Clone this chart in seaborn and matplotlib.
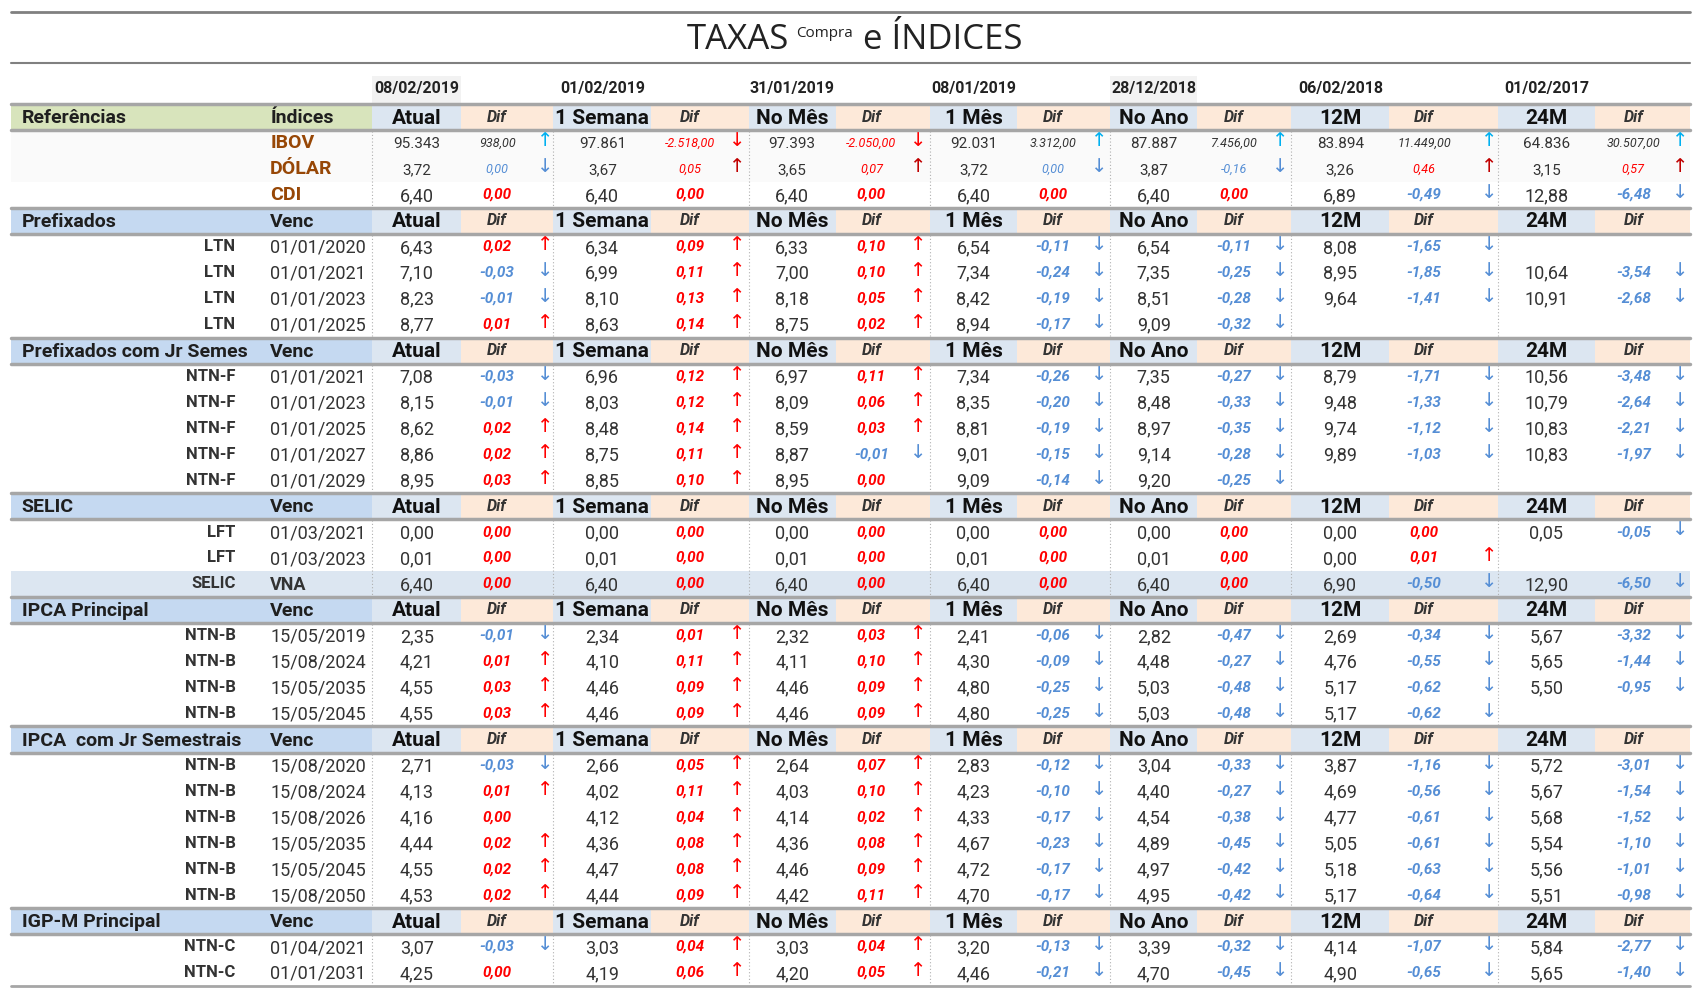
import matplotlib
matplotlib.use("Agg")
import matplotlib.pyplot as plt
import seaborn as sns

sns.set_theme(style="white")
FONT = ["Liberation Sans Narrow", "Roboto", "DejaVu Sans"]
plt.rcParams["font.family"] = FONT

# ─── Dados ────────────────────────────────────────────────────────────────────
DATES = ["08/02/2019", "01/02/2019", "31/01/2019", "08/01/2019", "28/12/2018", "06/02/2018", "01/02/2017"]
PERIODS = ["Atual", "1 Semana", "No Mês", "1 Mês", "No Ano", "12M", "24M"]

SECTIONS = [(0, "Referências", "Índices"), (4, "Prefixados", "Venc"),
            (9, "Prefixados com Jr Semes", "Venc"), (15, "SELIC", "Venc"),
            (19, "IPCA Principal", "Venc"), (24, "IPCA  com Jr Semestrais", "Venc"),
            (31, "IGP-M Principal", "Venc")]

ROW_IDX = [1, 2, 3, 5, 6, 7, 8, 10, 11, 12, 13, 14, 16, 17, 18,
           20, 21, 22, 23, 25, 26, 27, 28, 29, 30, 32, 33]
NAMES = ["IBOV", "DÓLAR", "CDI"] + ["LTN"] * 4 + ["NTN-F"] * 5 + ["LFT", "LFT", "SELIC"] \
    + ["NTN-B"] * 10 + ["NTN-C"] * 2
VENCS = ["", "", "", "01/01/2020", "01/01/2021", "01/01/2023", "01/01/2025",
         "01/01/2021", "01/01/2023", "01/01/2025", "01/01/2027", "01/01/2029",
         "01/03/2021", "01/03/2023", "VNA",
         "15/05/2019", "15/08/2024", "15/05/2035", "15/05/2045",
         "15/08/2020", "15/08/2024", "15/08/2026", "15/05/2035", "15/05/2045", "15/08/2050",
         "01/04/2021", "01/01/2031"]

N = None
atual = [95343, 3.72, 6.40, 6.43, 7.10, 8.23, 8.77, 7.08, 8.15, 8.62, 8.86, 8.95, 0.00, 0.01, 6.40,
         2.35, 4.21, 4.55, 4.55, 2.71, 4.13, 4.16, 4.44, 4.55, 4.53, 3.07, 4.25]
dif_atual = [938.00, 0.00, 0.00, 0.02, -0.03, -0.01, 0.01, -0.03, -0.01, 0.02, 0.02, 0.03, 0.00, 0.00, 0.00,
             -0.01, 0.01, 0.03, 0.03, -0.03, 0.01, 0.00, 0.02, 0.02, 0.02, -0.03, 0.00]
semana = [97861, 3.67, 6.40, 6.34, 6.99, 8.10, 8.63, 6.96, 8.03, 8.48, 8.75, 8.85, 0.00, 0.01, 6.40,
          2.34, 4.10, 4.46, 4.46, 2.66, 4.02, 4.12, 4.36, 4.47, 4.44, 3.03, 4.19]
dif_semana = [-2518.00, 0.05, 0.00, 0.09, 0.11, 0.13, 0.14, 0.12, 0.12, 0.14, 0.11, 0.10, 0.00, 0.00, 0.00,
              0.01, 0.11, 0.09, 0.09, 0.05, 0.11, 0.04, 0.08, 0.08, 0.09, 0.04, 0.06]
no_mes = [97393, 3.65, 6.40, 6.33, 7.00, 8.18, 8.75, 6.97, 8.09, 8.59, 8.87, 8.95, 0.00, 0.01, 6.40,
          2.32, 4.11, 4.46, 4.46, 2.64, 4.03, 4.14, 4.36, 4.46, 4.42, 3.03, 4.20]
dif_no_mes = [-2050.00, 0.07, 0.00, 0.10, 0.10, 0.05, 0.02, 0.11, 0.06, 0.03, -0.01, 0.00, 0.00, 0.00, 0.00,
              0.03, 0.10, 0.09, 0.09, 0.07, 0.10, 0.02, 0.08, 0.09, 0.11, 0.04, 0.05]
um_mes = [92031, 3.72, 6.40, 6.54, 7.34, 8.42, 8.94, 7.34, 8.35, 8.81, 9.01, 9.09, 0.00, 0.01, 6.40,
          2.41, 4.30, 4.80, 4.80, 2.83, 4.23, 4.33, 4.67, 4.72, 4.70, 3.20, 4.46]
dif_um_mes = [3312.00, 0.00, 0.00, -0.11, -0.24, -0.19, -0.17, -0.26, -0.20, -0.19, -0.15, -0.14, 0.00, 0.00, 0.00,
              -0.06, -0.09, -0.25, -0.25, -0.12, -0.10, -0.17, -0.23, -0.17, -0.17, -0.13, -0.21]
no_ano = [87887, 3.87, 6.40, 6.54, 7.35, 8.51, 9.09, 7.35, 8.48, 8.97, 9.14, 9.20, 0.00, 0.01, 6.40,
          2.82, 4.48, 5.03, 5.03, 3.04, 4.40, 4.54, 4.89, 4.97, 4.95, 3.39, 4.70]
dif_no_ano = [7456.00, -0.16, 0.00, -0.11, -0.25, -0.28, -0.32, -0.27, -0.33, -0.35, -0.28, -0.25, 0.00, 0.00, 0.00,
              -0.47, -0.27, -0.48, -0.48, -0.33, -0.27, -0.38, -0.45, -0.42, -0.42, -0.32, -0.45]
m12 = [83894, 3.26, 6.89, 8.08, 8.95, 9.64, N, 8.79, 9.48, 9.74, 9.89, N, 0.00, 0.00, 6.90,
       2.69, 4.76, 5.17, 5.17, 3.87, 4.69, 4.77, 5.05, 5.18, 5.17, 4.14, 4.90]
dif_m12 = [11449.00, 0.46, -0.49, -1.65, -1.85, -1.41, N, -1.71, -1.33, -1.12, -1.03, N, 0.00, 0.01, -0.50,
           -0.34, -0.55, -0.62, -0.62, -1.16, -0.56, -0.61, -0.61, -0.63, -0.64, -1.07, -0.65]
m24 = [64836, 3.15, 12.88, N, 10.64, 10.91, N, 10.56, 10.79, 10.83, 10.83, N, 0.05, N, 12.90,
       5.67, 5.65, 5.50, N, 5.72, 5.67, 5.68, 5.54, 5.56, 5.51, 5.84, 5.65]
dif_m24 = [30507.00, 0.57, -6.48, N, -3.54, -2.68, N, -3.48, -2.64, -2.21, -1.97, N, -0.05, N, -6.50,
           -3.32, -1.44, -0.95, N, -3.01, -1.54, -1.52, -1.10, -1.01, -0.98, -2.77, -1.40]

VALUES = [atual, semana, no_mes, um_mes, no_ano, m12, m24]
DIFS = [dif_atual, dif_semana, dif_no_mes, dif_um_mes, dif_no_ano, dif_m12, dif_m24]

# ─── Layout (coordenadas em px da tela) ───────────────────────────────────────
W, H = 1560, 918
LEFT, RIGHT = 10, 1557
VAL_CELL = [(343, 425), (510, 600), (690, 770), (857, 937), (1023, 1103), (1190, 1280), (1380, 1470)]
DIF_CELL = [(425, 510), (600, 690), (770, 857), (937, 1023), (1103, 1190), (1280, 1380), (1470, 1557)]
DIF_X = [458, 636, 803, 970, 1137, 1312, 1505]
ARR_X = [502, 679, 846, 1013, 1180, 1372, 1548]

C_TXT = "#333333"
C_RED = "#ff0000"
C_BLUE = "#558ed5"


def row_y(i):
    return 108 + i * 23.9


def fmt(v, dec=2):
    s = f"{v:,.{dec}f}"
    return s.replace(",", "X").replace(".", ",").replace("X", ".")


fig = plt.figure(figsize=(16.93, 9.96), dpi=100)
ax = fig.add_axes([0, 0, 1, 1])
ax.set_xlim(0, W)
ax.set_ylim(H, 0)
ax.axis("off")


def rect(x0, x1, y0, y1, color):
    ax.fill_between([x0, x1], y0, y1, color=color, lw=0, zorder=0)


# título
ax.plot([LEFT, RIGHT], [11, 11], color="#808080", lw=2)
ax.plot([LEFT, RIGHT], [58, 58], color="#808080", lw=1.5)
ax.text(727, 37, "TAXAS", ha="right", va="center", fontsize=25, color="#222222", family=["Open Sans"] + FONT)
ax.text(734, 31, "Compra", ha="left", va="center", fontsize=11, color="#222222", family=["Open Sans"] + FONT)
ax.text(795, 37, "e ÍNDICES", ha="left", va="center", fontsize=25, color="#222222", family=["Open Sans"] + FONT)

# datas
for k, d in enumerate(DATES):
    x0, x1 = VAL_CELL[k]
    if k in (0, 4):
        rect(x0, x1, 70, 95, "#f2f2f2")
    ax.text((x0 + x1) / 2, 82, d, ha="center", va="center", fontsize=11.5, weight="bold", color="#222222")

# fundos de linhas especiais
for i in (1, 2):
    rect(LEFT, RIGHT, row_y(i) - 12, row_y(i) + 12, "#fafafa")
rect(LEFT, RIGHT, row_y(18) - 12, row_y(18) + 12, "#dce6f1")

# cabeçalhos de seção
for i, label, sub in SECTIONS:
    y = row_y(i)
    rect(LEFT, 343, y - 12, y + 12, "#d8e4bc" if i == 0 else "#c5d9f1")
    for k in range(7):
        rect(*VAL_CELL[k], y - 12, y + 12, "#dce6f1")
        rect(*DIF_CELL[k], y - 12, y + 12, "#fde9d9")
        ax.text(sum(VAL_CELL[k]) / 2, y + 1, PERIODS[k], ha="center", va="center",
                fontsize=15, weight="bold", color="#111111")
        ax.text(DIF_X[k], y, "Dif", ha="center", va="center", fontsize=11.5,
                weight="bold", style="italic", color="#333333")
    ax.text(20, y + 1, label, ha="left", va="center", fontsize=14, weight="bold", color="#1f1f1f",
            clip_on=True).set_clip_box(None)
    ax.text(249, y + 1, sub, ha="left", va="center", fontsize=14, weight="bold", color="#1f1f1f")
    ax.plot([LEFT, RIGHT], [y - 12, y - 12], color="#a6a6a6", lw=2.5, zorder=3)
    ax.plot([LEFT, RIGHT], [y + 12, y + 12], color="#a6a6a6", lw=2.5, zorder=3)
ax.plot([LEFT, RIGHT], [909, 909], color="#a6a6a6", lw=2)

# linhas verticais pontilhadas
for x in [343, 510, 690, 857, 1023, 1190, 1380]:
    for i0, i1 in [(0, 4), (4, 9), (9, 15), (15, 19), (19, 24), (24, 31), (31, 34)]:
        ax.plot([x, x], [row_y(i0) + 13, row_y(i1) - 13], color="#b0b0b0", lw=0.8, ls=(0, (1, 2)))

# linhas de dados
for r, i in enumerate(ROW_IDX):
    y = row_y(i)
    name = NAMES[r]
    if r < 3:
        ax.text(249, y, name, ha="left", va="center", fontsize=14, weight="bold", color="#974706")
    else:
        ax.text(217, y, name, ha="right", va="center", fontsize=12, weight="bold", color="#333333")
        ax.text(249, y + 1, VENCS[r], ha="left", va="center", fontsize=13,
                weight="bold" if name == "SELIC" else "normal", color="#333333")
    small = r < 2
    for k in range(7):
        v, d = VALUES[k][r], DIFS[k][r]
        if v is None:
            continue
        ax.text(sum(VAL_CELL[k]) / 2, y + 1, fmt(v, 0 if r == 0 else 2), ha="center", va="center",
                fontsize=11 if small else 13, color=C_TXT)
        if r == 0:
            col = C_TXT if d > 0 else C_RED
            arrow, acol = ("↑", "#00b0f0") if d > 0 else ("↓", C_RED)
        elif r == 1:
            col = C_RED if d > 0 else C_BLUE
            arrow, acol = ("↑", "#c00000") if d > 0 else ("↓", C_BLUE)
        else:
            col = C_BLUE if d < 0 else C_RED
            arrow = "↑" if d > 0 else ("↓" if d < 0 else "")
            acol = C_RED if d > 0 else C_BLUE
        ax.text(DIF_X[k], y, fmt(d), ha="center", va="center", fontsize=9 if small else 11,
                style="italic", weight="normal" if small else "bold", color=col)
        if arrow:
            ax.text(ARR_X[k], y - 2, arrow, ha="center", va="center", fontsize=14,
                    color=acol, family="DejaVu Sans")

fig.savefig("out.png", dpi=100)
